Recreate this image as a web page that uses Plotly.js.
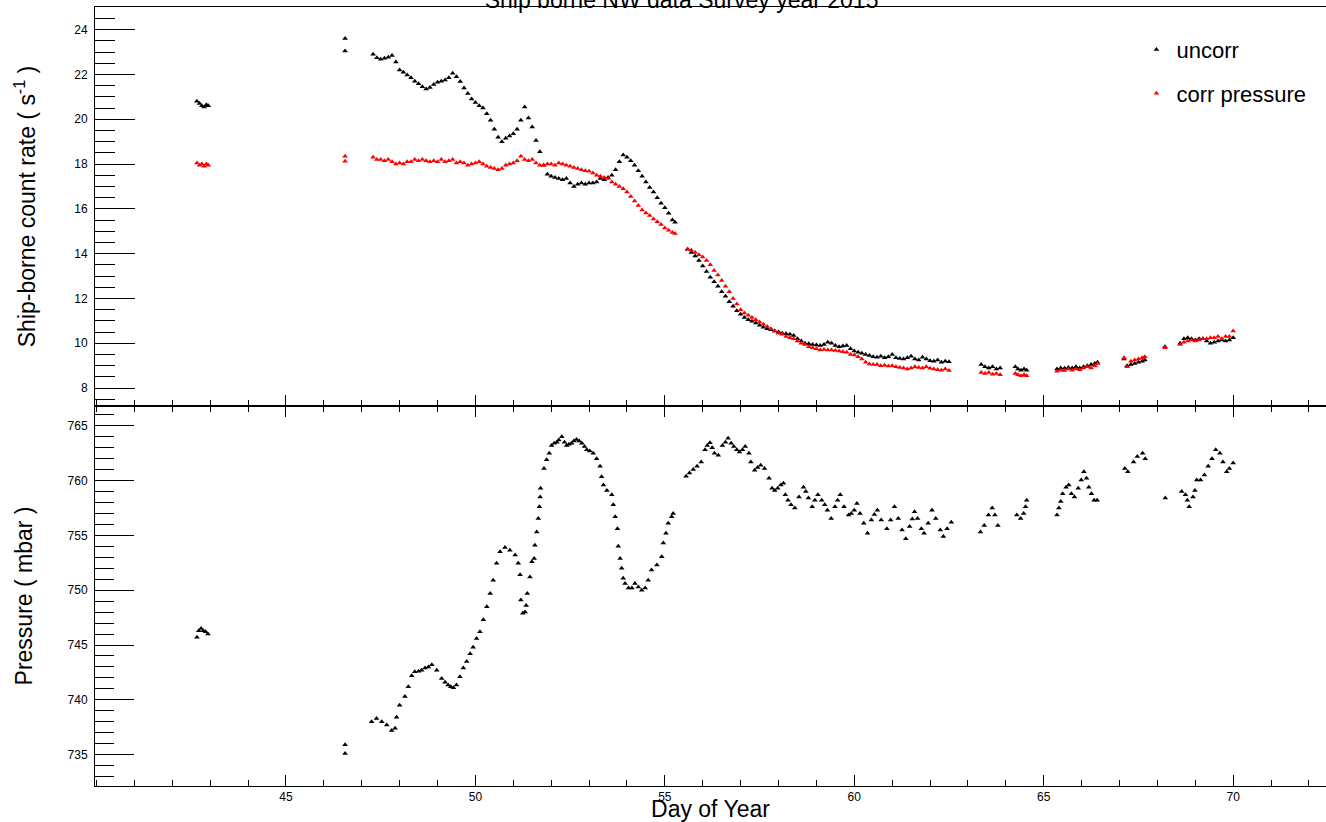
<!DOCTYPE html>
<html>
<head>
<meta charset="utf-8">
<script src="https://cdn.plot.ly/plotly-3.0.1.min.js"></script>
<style>html,body{margin:0;padding:0;background:#fff;}#chart{width:1326px;height:822px;}</style>
</head>
<body>
<div id="chart"></div>
<script>
// ---- Data ----
const chartTitle = "Ship borne NW data Survey year 2015";
const seriesNames = ["uncorr", "corr pressure"];

// Day of year for the count-rate samples (shared by both rate series)
const rateDay = [
  42.65,42.72,42.78,42.84,42.9,42.95,
  46.56,46.56,
  47.3,47.4,47.5,47.6,47.7,47.8,47.9,48.0,48.1,48.2,
  48.3,48.4,48.5,48.6,48.7,48.8,48.9,49.0,49.1,49.2,
  49.3,49.4,49.5,49.6,49.7,49.8,49.9,50.0,50.1,50.2,
  50.3,50.4,50.5,50.6,50.7,50.8,50.9,51.0,51.1,51.2,
  51.3,51.4,51.5,51.6,51.7,51.8,51.9,52.0,52.1,52.2,
  52.3,52.4,52.5,52.6,52.7,52.8,52.9,53.0,53.1,53.2,
  53.3,53.4,53.5,53.6,53.7,53.8,53.9,54.0,54.1,54.2,
  54.3,54.4,54.5,54.6,54.7,54.8,54.9,55.0,55.1,55.2,
  55.27,
  55.6,55.7,55.8,55.9,56.0,56.1,56.2,56.3,56.4,56.5,
  56.6,56.7,56.8,56.9,57.0,57.1,57.2,57.3,57.4,57.5,
  57.6,57.7,57.8,57.9,58.0,58.1,58.2,58.3,58.4,58.5,
  58.6,58.7,58.8,58.9,59.0,59.1,59.2,59.3,59.4,59.5,
  59.6,59.7,59.8,59.9,60.0,60.1,60.2,60.3,60.4,60.5,
  60.6,60.7,60.8,60.9,61.0,61.1,61.2,61.3,61.4,61.5,
  61.6,61.7,61.8,61.9,62.0,62.1,62.2,62.3,62.4,62.5,
  63.35,63.45,63.55,63.65,63.75,63.85,
  64.25,64.32,64.4,64.48,64.55,
  65.35,65.45,65.55,65.65,65.75,65.85,65.95,66.05,66.15,66.25,66.35,66.42,
  67.12,67.2,67.3,67.4,67.5,67.6,67.67,
  68.2,
  68.6,68.7,68.8,68.9,69.0,69.1,69.2,69.3,69.4,69.5,69.6,69.7,69.8,69.9,70.0
];

// Ship-borne count rate, uncorrected (s^-1)
const rateUncorr = [
  20.8,20.7,20.6,20.55,20.65,20.6,
  23.6,23.05,
  22.9,22.75,22.68,22.72,22.77,22.85,22.55,22.2,22.1,21.98,
  21.85,21.7,21.58,21.45,21.35,21.42,21.55,21.65,21.7,21.75,
  21.85,22.05,21.9,21.68,21.4,21.15,20.9,20.75,20.6,20.5,
  20.25,19.95,19.55,19.2,19.0,19.15,19.25,19.35,19.55,19.95,
  20.55,20.05,19.65,19.05,18.55,17.95,17.55,17.45,17.4,17.35,
  17.3,17.35,17.15,17.0,17.1,17.15,17.1,17.15,17.15,17.2,
  17.35,17.3,17.4,17.5,17.75,18.1,18.4,18.3,18.15,17.95,
  17.7,17.45,17.2,16.95,16.75,16.5,16.25,16.05,15.8,15.5,
  15.4,
  14.2,14.05,13.9,13.7,13.45,13.2,12.95,12.75,12.55,12.3,
  12.1,11.85,11.65,11.45,11.3,11.15,11.05,10.98,10.9,10.8,
  10.72,10.65,10.6,10.55,10.5,10.45,10.42,10.4,10.35,10.2,
  10.1,10.0,9.98,9.95,9.92,9.9,9.95,10.05,10.0,9.9,
  9.85,9.88,9.9,9.75,9.65,9.6,9.55,9.5,9.45,9.4,
  9.38,9.42,9.35,9.4,9.5,9.35,9.32,9.3,9.35,9.42,
  9.3,9.25,9.38,9.3,9.22,9.2,9.25,9.15,9.2,9.18,
  9.05,8.95,8.9,8.95,8.85,8.9,
  8.95,8.85,8.8,8.85,8.8,
  8.85,8.9,8.88,8.92,8.9,8.95,8.9,8.95,9.0,9.05,9.1,9.15,
  9.3,9.0,9.05,9.1,9.15,9.2,9.25,
  9.85,
  10.0,10.2,10.25,10.2,10.15,10.2,10.2,10.1,10.0,10.05,10.1,10.15,10.1,10.15,10.25
];

// Ship-borne count rate, pressure corrected (s^-1)
const rateCorr = [
  18.05,17.95,18.0,17.9,18.0,17.95,
  18.35,18.12,
  18.3,18.2,18.2,18.15,18.2,18.1,18.0,18.05,18.0,18.1,
  18.1,18.2,18.15,18.2,18.15,18.1,18.15,18.1,18.2,18.1,
  18.15,18.2,18.05,18.1,18.05,17.95,18.0,18.05,18.1,18.0,
  17.9,17.85,17.8,17.75,17.8,17.95,18.0,18.05,18.15,18.35,
  18.2,18.15,18.2,18.05,17.95,17.95,18.0,18.0,17.95,18.05,
  18.0,17.95,17.9,17.85,17.8,17.75,17.7,17.68,17.6,17.5,
  17.45,17.4,17.35,17.2,17.1,17.0,16.9,16.75,16.55,16.35,
  16.15,15.95,15.82,15.7,15.55,15.42,15.3,15.15,15.05,14.95,
  14.9,
  14.2,14.15,14.05,13.95,13.85,13.7,13.5,13.25,13.05,12.8,
  12.55,12.3,12.0,11.75,11.5,11.35,11.25,11.15,11.05,10.95,
  10.85,10.75,10.65,10.55,10.45,10.4,10.3,10.25,10.2,10.1,
  10.0,9.95,9.85,9.8,9.75,9.7,9.72,9.7,9.7,9.68,
  9.65,9.62,9.6,9.5,9.48,9.4,9.3,9.15,9.08,9.05,
  9.05,9.0,9.02,8.98,9.0,8.95,8.92,8.9,8.85,8.9,
  8.95,8.92,8.9,8.95,8.88,8.85,8.82,8.8,8.85,8.78,
  8.7,8.65,8.7,8.62,8.65,8.6,
  8.65,8.6,8.55,8.6,8.55,
  8.75,8.8,8.78,8.85,8.8,8.85,8.82,8.9,8.95,8.9,9.0,9.1,
  9.35,8.95,9.2,9.25,9.3,9.35,9.4,
  9.8,
  9.95,10.05,10.1,10.15,10.1,10.15,10.2,10.2,10.25,10.25,10.3,10.2,10.3,10.3,10.55
];

// Pressure samples
const pressDay = [
  42.65,42.7,42.76,42.82,42.88,42.94,
  46.56,46.56,
  47.26,47.39,47.53,47.66,47.79,47.88,47.92,48.0,48.14,48.23,48.32,48.4,48.5,48.58,48.67,48.76,48.85,48.98,
  49.11,49.2,49.28,49.35,49.42,49.5,49.59,49.68,49.77,49.86,49.94,50.03,50.12,50.21,50.3,50.39,50.47,50.56,50.65,50.78,50.91,
  51.05,51.13,51.18,51.2,51.25,51.31,51.34,51.37,51.44,51.49,51.55,51.57,51.62,51.66,51.69,51.71,51.72,51.81,51.88,51.95,
  52.01,52.08,52.15,52.2,52.28,52.35,52.41,52.47,52.54,52.6,52.67,52.74,52.81,52.88,52.94,
  53.02,53.11,53.2,53.29,53.33,53.38,53.47,53.6,53.64,53.69,53.75,53.77,53.82,53.86,53.9,53.95,
  54.04,54.13,54.21,54.3,54.39,54.48,54.56,54.65,54.79,54.92,54.96,55.03,55.09,55.18,55.22,
  55.56,55.65,55.75,55.85,55.96,56.06,56.12,56.19,56.25,56.31,56.41,56.52,56.6,56.67,56.75,56.82,56.9,56.97,
  57.05,57.12,57.22,57.27,57.37,57.45,57.53,57.63,57.75,57.83,57.9,57.98,
  58.06,58.13,58.18,58.25,58.33,58.43,58.54,58.66,58.72,58.79,58.89,58.96,
  59.04,59.14,59.22,59.29,59.39,59.49,59.56,59.63,59.73,59.85,59.92,
  60.0,60.07,60.15,60.25,60.35,60.45,60.53,60.61,60.71,60.86,60.96,
  61.06,61.16,61.26,61.36,61.46,61.53,61.59,61.67,61.77,61.84,61.95,
  62.05,62.15,62.27,62.35,62.45,62.56,
  63.33,63.43,63.54,63.64,63.71,63.79,
  64.29,64.39,64.47,64.52,64.55,
  65.35,65.4,65.45,65.5,65.59,65.66,65.73,65.81,65.91,65.99,66.06,66.13,66.19,66.26,66.33,66.41,
  67.14,67.22,67.37,67.47,67.61,67.68,
  68.21,
  68.64,68.74,68.79,68.84,68.94,68.99,69.04,69.14,69.24,69.34,69.44,69.54,69.65,69.73,69.83,69.9,70.0
];
const pressVal = [
  745.7,746.3,746.5,746.3,746.2,746.0,
  735.9,735.1,
  738.0,738.3,738.0,737.7,737.2,737.4,738.4,739.5,740.3,741.2,742.2,742.55,742.6,742.7,742.9,743.0,743.2,742.7,
  741.95,741.6,741.35,741.2,741.1,741.35,742.1,742.9,743.5,744.2,744.8,745.6,746.2,747.3,748.5,749.7,750.9,752.45,753.5,753.9,753.65,
  753.2,752.45,751.4,749.1,747.9,748.0,748.6,749.7,751.2,752.6,752.9,754.1,755.3,756.55,757.6,758.5,759.3,761.1,761.9,762.5,
  763.2,763.4,763.5,763.7,764.0,763.5,763.2,763.3,763.4,763.6,763.75,763.6,763.4,763.1,762.8,
  762.7,762.5,762.0,761.3,760.35,759.6,759.1,758.7,757.8,756.7,755.6,754.0,752.9,752.0,751.1,750.6,
  750.2,750.2,750.6,750.3,750.0,750.2,750.9,751.85,752.3,753.05,754.3,755.2,756.1,756.7,757.0,
  760.4,760.7,761.0,761.3,761.7,762.8,763.2,763.45,763.0,762.5,762.3,763.2,763.5,763.85,763.4,763.1,762.8,762.6,
  762.8,763.1,762.5,761.7,760.95,761.2,761.4,761.1,760.2,759.3,759.1,759.3,
  759.6,759.75,758.7,758.2,757.8,757.5,758.5,759.4,759.0,758.4,757.6,758.2,
  758.7,758.2,757.8,757.3,756.55,757.6,758.2,758.7,757.6,756.85,757.0,
  757.3,757.9,757.0,756.1,755.2,756.4,756.9,757.3,756.4,755.6,756.4,
  757.6,756.55,755.5,754.7,755.8,756.5,757.15,756.55,755.6,755.2,756.1,
  757.3,756.55,755.5,754.9,755.6,756.2,
  755.3,755.9,756.85,757.5,756.85,755.9,
  756.85,756.55,757.0,757.6,758.2,
  756.85,757.5,758.1,758.8,759.4,759.6,758.8,758.5,759.3,760.05,760.8,760.2,759.4,758.8,758.2,758.2,
  761.1,760.8,761.7,762.2,762.5,762.0,
  758.4,
  759.0,758.7,758.2,757.6,758.5,759.1,760.05,760.05,760.5,761.3,762.0,762.8,762.5,761.7,760.8,761.1,761.6
];

// Axis ranges / labels
const dayRange = [39.96, 72.45];
const dayTicks = [45, 50, 55, 60, 65, 70];
const rateRange = [7.2, 25.01];
const pressRange = [732.14, 766.8];
const xTitle = "Day of Year";
const yTitleRate = "Ship-borne count rate ( s<sup>-1</sup> )";
const yTitlePress = "Pressure ( mbar )";

// ---- Plot ----
const FONT = "Liberation Sans, Arial, Helvetica, sans-serif";
const mk = (c) => ({symbol: "triangle-up", size: 5, color: c, line: {width: 0}});

const traces = [
  {x: rateDay, y: rateUncorr, type: "scatter", mode: "markers", name: seriesNames[0],
   marker: mk("black"), xaxis: "x", yaxis: "y", legendgroup: "a"},
  {x: rateDay, y: rateCorr, type: "scatter", mode: "markers", name: seriesNames[1],
   marker: mk("#ff0000"), xaxis: "x", yaxis: "y", legendgroup: "b"},
  {x: pressDay, y: pressVal, type: "scatter", mode: "markers", name: "pressure",
   marker: mk("black"), xaxis: "x2", yaxis: "y2", showlegend: false}
];

const splitY = 380 / 779;
const tickFont = {family: FONT, size: 12, color: "black"};
const titleFont = {family: FONT, size: 23, color: "black"};

const commonX = {
  range: dayRange, showgrid: false, zeroline: false,
  showline: true, linecolor: "black", linewidth: 1,
  ticks: "inside", ticklen: 11, tickwidth: 1, tickcolor: "black",
  tickmode: "array", tickvals: dayTicks, ticktext: dayTicks.map(String),
  minor: {tickmode: "linear", tick0: 0, dtick: 1, ticks: "inside", ticklen: 6, tickwidth: 1, tickcolor: "black", showgrid: false},
  tickfont: tickFont, fixedrange: true
};
const commonY = {
  showgrid: false, zeroline: false,
  showline: true, linecolor: "black", linewidth: 1,
  ticks: "inside", tickwidth: 1, tickcolor: "black",
  tickfont: tickFont, ticklabelstandoff: 4, fixedrange: true
};

const layout = {
  width: 1326, height: 822,
  margin: {l: 95, r: 0, t: 7, b: 36, pad: 0},
  paper_bgcolor: "white", plot_bgcolor: "white",
  font: {family: FONT, color: "black"},
  title: {text: chartTitle, font: titleFont, x: 0.514, xanchor: "center",
          yref: "container", y: 1, yanchor: "middle"},
  showlegend: true,
  legend: {x: 0.846, xanchor: "left", y: 0.972, yanchor: "top",
           font: {family: FONT, size: 22, color: "black"},
           bgcolor: "rgba(0,0,0,0)", borderwidth: 0,
           tracegroupgap: 12, traceorder: "grouped", itemsizing: "trace", itemwidth: 30},
  xaxis: Object.assign({}, commonX, {anchor: "y", showticklabels: false, mirror: true}),
  xaxis2: Object.assign({}, commonX, {anchor: "y2", matches: "x", mirror: "ticks",
          title: {text: xTitle, font: titleFont, standoff: 0}}),
  yaxis: Object.assign({}, commonY, {domain: [splitY, 1], range: rateRange,
          tick0: 0, dtick: 2, ticklen: 40,
          minor: {dtick: 0.5, ticks: "inside", ticklen: 20, tickwidth: 1, tickcolor: "black", showgrid: false},
          title: {text: yTitleRate, font: titleFont, standoff: 32}}),
  yaxis2: Object.assign({}, commonY, {domain: [0, splitY], range: pressRange,
          tick0: 0, dtick: 5, ticklen: 39,
          minor: {dtick: 1, ticks: "inside", ticklen: 19, tickwidth: 1, tickcolor: "black", showgrid: false},
          title: {text: yTitlePress, font: titleFont, standoff: 28}})
};

Plotly.newPlot("chart", traces, layout, {staticPlot: true, displayModeBar: false});
</script>
</body>
</html>
